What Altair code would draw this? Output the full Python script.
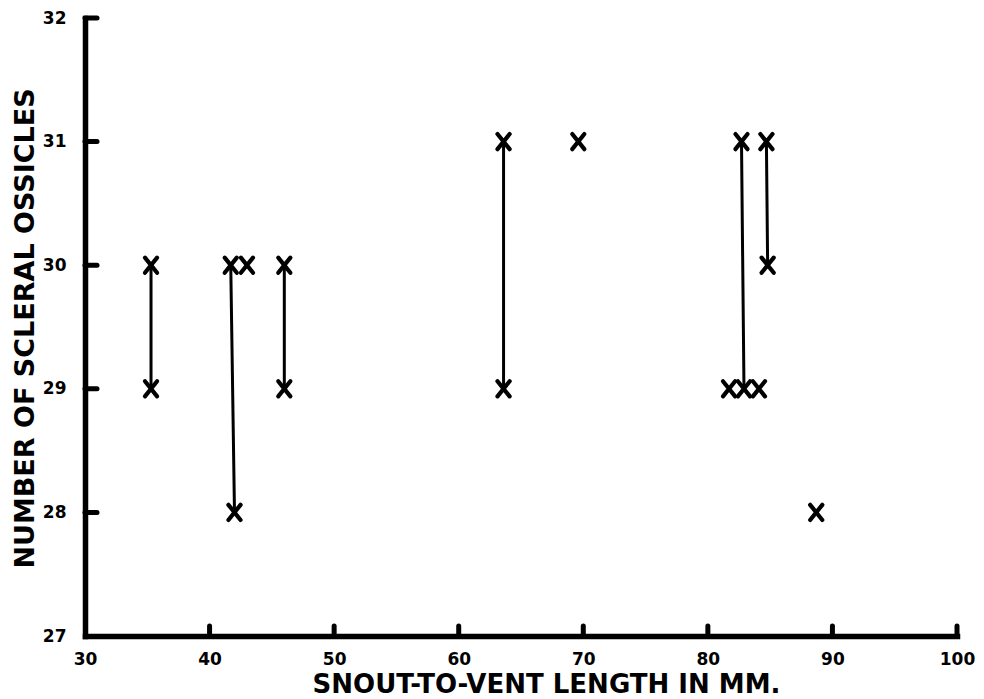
import altair as alt
import pandas as pd

# Specimens: snout-to-vent length (mm) and number of scleral ossicles
sv_length = [35.3, 35.3, 41.7, 43.0, 42.0, 46.0, 46.0, 63.6, 63.6, 69.6,
             82.7, 81.7, 82.9, 84.1, 84.7, 84.8, 88.7]
ossicles = [30, 29, 30, 30, 28, 30, 29, 31, 29, 31,
            31, 29, 29, 29, 31, 30, 28]
# specimens joined by a line
pair = ["a", "a", "b", "", "b", "c", "c", "d", "d", "",
        "e", "", "e", "", "f", "f", ""]

x_ticks = [40, 50, 60, 70, 80, 90, 100]
y_ticks = [28, 29, 30, 31, 32]
x_labels = [30, 40, 50, 60, 70, 80, 90, 100]
y_labels = [27, 28, 29, 30, 31, 32]

df = pd.DataFrame({"len": sv_length, "oss": ossicles, "pair": pair})
xt = pd.DataFrame({"v": x_ticks})
yt = pd.DataFrame({"v": y_ticks})

FONT = "DejaVu Sans"
W, H = 872, 618

xscale = alt.Scale(domain=[30, 100], nice=False, zero=False)
yscale = alt.Scale(domain=[27, 32], nice=False, zero=False)

xaxis = alt.Axis(
    values=x_labels, format="d", grid=False, ticks=False, tickSize=0,
    domainWidth=5.5, domainColor="black", domainCap="square",
    labelFont=FONT, labelFontWeight="bold", labelFontSize=17, labelColor="black",
    labelPadding=15, labelFlush=False,
    title="SNOUT-TO-VENT LENGTH IN MM.",
    titleFont=FONT, titleFontWeight="bold", titleFontSize=26, titleColor="black",
    titleX=461, titleY=48, titleAlign="center", titleBaseline="middle",
)
yaxis = alt.Axis(
    values=y_labels, format="d", grid=False, ticks=False, tickSize=0,
    domainWidth=5.5, domainColor="black", domainCap="square",
    labelFont=FONT, labelFontWeight="bold", labelFontSize=17, labelColor="black",
    labelPadding=19, labelFlush=False,
    title="NUMBER OF SCLERAL OSSICLES",
    titleFont=FONT, titleFontWeight="bold", titleFontSize=27, titleColor="black",
    titleX=-60, titleY=310, titleAlign="center", titleBaseline="middle",
)

base = alt.Chart(df)

lines = base.transform_filter("datum.pair != ''").mark_line(
    color="black", strokeWidth=3, strokeCap="round"
).encode(
    x=alt.X("len:Q", scale=xscale, axis=xaxis),
    y=alt.Y("oss:Q", scale=yscale, axis=yaxis),
    detail="pair:N",
    order="oss:Q",
)

points = base.mark_point(
    shape="M-0.8,-1L0.8,1M-0.8,1L0.8,-1",
    filled=False, size=230, strokeWidth=4.2, color="black",
    strokeCap="round", opacity=1,
).encode(
    x=alt.X("len:Q", scale=xscale),
    y=alt.Y("oss:Q", scale=yscale),
)

xtick_layer = alt.Chart(xt).mark_rule(
    color="black", strokeWidth=5, strokeCap="round"
).encode(
    x=alt.X("v:Q", scale=xscale),
    y=alt.value(H),
    y2=alt.value(H - 10),
)

ytick_layer = alt.Chart(yt).mark_rule(
    color="black", strokeWidth=5, strokeCap="round"
).encode(
    y=alt.Y("v:Q", scale=yscale),
    x=alt.value(0),
    x2=alt.value(12),
)

chart = alt.layer(lines, points, xtick_layer, ytick_layer).properties(
    width=W, height=H,
    autosize=alt.AutoSizeParams(type="none"),
    padding={"left": 77, "top": 10, "right": 19, "bottom": 62},
    background="white",
).configure_view(stroke=None)

chart.save("out.html", embed_options={"renderer": "svg", "actions": False})
